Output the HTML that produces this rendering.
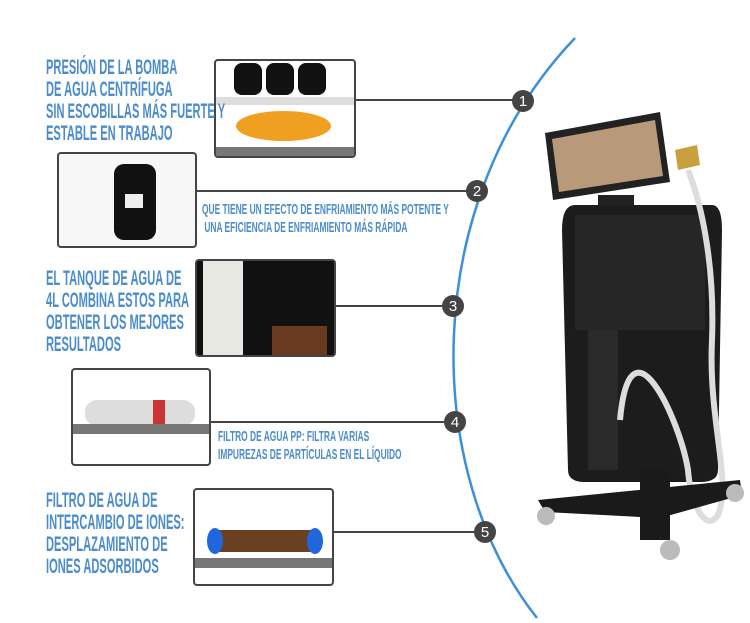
<!DOCTYPE html>
<html><head><meta charset="utf-8"><style>
body{margin:0;width:750px;height:623px;background:#fff;position:relative;overflow:hidden;font-family:"Liberation Sans Narrow","Liberation Sans",sans-serif}
.t{position:absolute;color:#4b8dcc;font-weight:bold;white-space:nowrap;transform-origin:0 0;transform:scaleX(0.53);font-size:21px;line-height:22px}
.s{position:absolute;color:#4b8dcc;font-weight:bold;white-space:nowrap;transform-origin:0 0;transform:scaleX(0.56);font-size:15px;line-height:18px}
.b{position:absolute;border:2px solid #444;border-radius:4px;background:#f4f4f4;overflow:hidden;box-sizing:border-box}
</style></head><body>
<svg width="750" height="623" style="position:absolute;left:0;top:0">
<path d="M575 38 C420 200 420 470 537 618" fill="none" stroke="#3d8fdc" stroke-width="2.5"/>
<g stroke="#444" stroke-width="2">
<line x1="356" y1="100" x2="523" y2="100"/>
<line x1="197" y1="191" x2="477" y2="191"/>
<line x1="336" y1="306" x2="453" y2="306"/>
<line x1="211" y1="422" x2="455" y2="422"/>
<line x1="334" y1="532" x2="485" y2="532"/>
</g>
<g fill="#444">
<circle cx="523" cy="101" r="11"/><circle cx="477" cy="191" r="11"/><circle cx="453" cy="306" r="11"/><circle cx="455" cy="422" r="11"/><circle cx="485" cy="532" r="11"/>
</g>
<g fill="#fff" font-family="Liberation Sans" font-size="15" text-anchor="middle">
<text x="523" y="106">1</text><text x="477" y="196">2</text><text x="453" y="311">3</text><text x="455" y="427">4</text><text x="485" y="537">5</text>
</g>
<!-- machine -->
<g>
<path d="M545 133 L660 112 L670 182 L553 200 Z" fill="#222"/>
<path d="M552 139 L655 120 L663 176 L559 192 Z" fill="#b89a7a"/>
<rect x="598" y="195" width="36" height="18" fill="#222"/>
<circle cx="608" cy="217" r="6" fill="#c22"/><circle cx="636" cy="217" r="6" fill="#c22"/>
<path d="M575 205 L712 205 Q722 205 722 230 L718 470 Q718 482 700 482 L585 482 Q568 482 568 470 L562 230 Q562 205 575 205 Z" fill="#1c1c1c"/>
<rect x="575" y="215" width="130" height="115" fill="#262626"/>
<rect x="588" y="330" width="30" height="140" fill="#2a2a2a"/>
<path d="M675 150 L697 145 L700 165 L678 170 Z" fill="#c9a040"/>
<path d="M688 170 C700 200 715 260 712 340 C708 420 732 480 718 515 C705 535 690 500 688 470 C680 420 630 310 620 420" fill="none" stroke="#ddd" stroke-width="6"/>
<path d="M538 500 L740 480 L742 495 L660 518 L545 512 Z" fill="#1a1a1a"/>
<rect x="640" y="470" width="30" height="70" fill="#1a1a1a"/>
<circle cx="546" cy="516" r="9" fill="#bbb"/><circle cx="735" cy="493" r="9" fill="#bbb"/><circle cx="670" cy="550" r="10" fill="#bbb"/>
</g>
</svg>
<div class="b" style="left:214px;top:59px;width:142px;height:99px;background:#fff">
<div style="position:absolute;left:18px;top:2px;width:28px;height:32px;background:#111;border-radius:8px"></div>
<div style="position:absolute;left:50px;top:2px;width:28px;height:32px;background:#111;border-radius:8px"></div>
<div style="position:absolute;left:82px;top:2px;width:28px;height:32px;background:#111;border-radius:8px"></div>
<div style="position:absolute;left:0;top:36px;width:140px;height:8px;background:#ddd"></div>
<div style="position:absolute;left:20px;top:50px;width:95px;height:30px;border-radius:50%;background:#f0a020"></div>
<div style="position:absolute;left:0;top:86px;width:140px;height:11px;background:#777"></div>
</div>
<div class="b" style="left:57px;top:152px;width:140px;height:96px;background:#f7f7f7">
<div style="position:absolute;left:55px;top:10px;width:42px;height:76px;background:#111;border-radius:10px"></div>
<div style="position:absolute;left:66px;top:40px;width:18px;height:14px;background:#eee"></div>
</div>
<div class="b" style="left:195px;top:259px;width:141px;height:98px;background:#111">
<div style="position:absolute;left:6px;top:0;width:40px;height:96px;background:#e8e8e2"></div>
<div style="position:absolute;left:75px;top:65px;width:55px;height:30px;background:#6a3a20"></div>
</div>
<div class="b" style="left:71px;top:368px;width:140px;height:98px;background:#fff">
<div style="position:absolute;left:12px;top:30px;width:110px;height:26px;background:#ddd;border-radius:12px"></div>
<div style="position:absolute;left:80px;top:30px;width:12px;height:26px;background:#c33"></div>
<div style="position:absolute;left:0;top:54px;width:138px;height:10px;background:#777"></div>
</div>
<div class="b" style="left:193px;top:488px;width:141px;height:98px;background:#fff">
<div style="position:absolute;left:18px;top:40px;width:104px;height:22px;background:#6b4020;border-radius:4px"></div>
<div style="position:absolute;left:12px;top:38px;width:16px;height:26px;background:#2266dd;border-radius:50%"></div>
<div style="position:absolute;left:112px;top:38px;width:16px;height:26px;background:#2266dd;border-radius:50%"></div>
<div style="position:absolute;left:0;top:68px;width:139px;height:10px;background:#777"></div>
</div>
<div class="t" style="left:46px;top:57px">PRESIÓN DE LA BOMBA<br>DE AGUA CENTRÍFUGA<br>SIN ESCOBILLAS MÁS FUERTE Y<br>ESTABLE EN TRABAJO</div>
<div class="s" style="left:202px;top:201px">QUE TIENE UN EFECTO DE ENFRIAMIENTO MÁS POTENTE Y<br>&nbsp;UNA EFICIENCIA DE ENFRIAMIENTO MÁS RÁPIDA</div>
<div class="t" style="left:46px;top:268px">EL TANQUE DE AGUA DE<br>4L COMBINA ESTOS PARA<br>OBTENER LOS MEJORES<br>RESULTADOS</div>
<div class="s" style="left:218px;top:428px">FILTRO DE AGUA PP: FILTRA VARIAS<br>IMPUREZAS DE PARTÍCULAS EN EL LÍQUIDO</div>
<div class="t" style="left:46px;top:490px">FILTRO DE AGUA DE<br>INTERCAMBIO DE IONES:<br>DESPLAZAMIENTO DE<br>IONES ADSORBIDOS</div>
</body></html>
